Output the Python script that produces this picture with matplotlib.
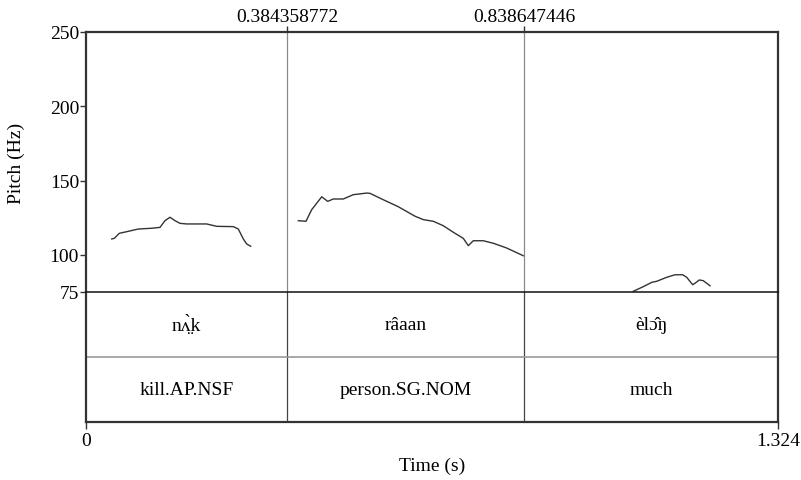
import matplotlib
matplotlib.use('Agg')
import matplotlib.pyplot as plt

# Praat-style pitch + TextGrid picture
T_END = 1.324
BOUNDARIES = [0.384358772, 0.838647446]
BOUNDARY_LABELS = ['0.384358772', '0.838647446']
PITCH_TICKS = [75, 100, 150, 200, 250]

# pitch contour, one list per voiced stretch (time s, Hz)
seg1_t = [0.0492, 0.0541, 0.0637, 0.0779, 0.1001, 0.1257, 0.1416, 0.1511, 0.1607,
          0.1703, 0.1799, 0.1927, 0.2309, 0.2501, 0.2818, 0.2914, 0.3010, 0.3075, 0.3151]
seg1_f = [110.7, 111.1, 114.5, 115.6, 117.4, 117.9, 118.5, 123.0, 125.3,
          123.0, 121.2, 120.8, 120.8, 119.2, 119.0, 117.4, 110.7, 107.3, 105.8]
seg2_t = [0.4062, 0.4209, 0.4318, 0.4510, 0.4624, 0.4732, 0.4923, 0.5114, 0.5371,
          0.5434, 0.5688, 0.5975, 0.6295, 0.6454, 0.6645, 0.6836, 0.7028, 0.7219,
          0.7315, 0.7410, 0.7602, 0.7793, 0.8049, 0.8367]
seg2_f = [123.0, 122.6, 130.4, 139.1, 136.0, 137.6, 137.6, 140.5, 141.6,
          141.4, 137.1, 132.4, 126.0, 123.7, 122.6, 119.6, 115.2, 111.1,
          106.2, 109.5, 109.5, 107.8, 104.6, 99.4]
seg3_t = [1.0472, 1.0663, 1.0824, 1.0919, 1.1111, 1.1270, 1.1417, 1.1493, 1.1608,
          1.1652, 1.1735, 1.1811, 1.1939]
seg3_f = [75.5, 78.6, 81.5, 82.2, 84.9, 86.6, 86.6, 84.9, 79.9,
          80.9, 83.1, 82.6, 79.2]

tier1_labels = ['n\u028c\u0324\u0300k', 'r\u00e2aan', '\u00e8l\u0254\u0302\u014b']
tier2_labels = ['kill.AP.NSF', 'person.SG.NOM', 'much']

FONT = ['Liberation Serif', 'DejaVu Serif']
plt.rcParams['font.family'] = FONT
plt.rcParams['font.size'] = 14

fig = plt.figure(figsize=(8.01, 4.81), dpi=100)
W, H = 801, 481
left, right = 86, 778
top, mid, bot = 33, 293, 423

ax = fig.add_axes([left / W, 1 - mid / H, (right - left) / W, (mid - top) / H])
ax2 = fig.add_axes([left / W, 1 - bot / H, (right - left) / W, (bot - mid) / H])

for t, f in [(seg1_t, seg1_f), (seg2_t, seg2_f), (seg3_t, seg3_f)]:
    ax.plot(t, f, color='#333333', lw=1.0)

ax.set_xlim(0, T_END)
ax.set_ylim(75, 250)
for b in BOUNDARIES:
    ax.axvline(b, color='#8a8a8a', lw=0.9)
    ax2.axvline(b, color='#444444', lw=0.9)

for s in ['left', 'top', 'right']:
    ax.spines[s].set_linewidth(1.6)
    ax.spines[s].set_color('#333333')
ax.spines['bottom'].set_visible(False)

ax.set_yticks(PITCH_TICKS)
ax.set_yticklabels([str(v) for v in PITCH_TICKS])
ax.tick_params(axis='y', direction='out', length=4, width=1, color='#333333', pad=1)
ax.xaxis.set_ticks_position('top')
ax.set_xticks(BOUNDARIES)
ax.set_xticklabels(BOUNDARY_LABELS)
ax.tick_params(axis='x', direction='out', length=4, width=1, color='#333333', pad=1)
ax.set_ylabel('Pitch (Hz)')
ax.yaxis.set_label_coords(-0.088, 0.5)

# tiers
ax2.set_xlim(0, T_END)
ax2.set_ylim(0, 2)
ax2.axhline(1, color='#999999', lw=1.2)
ax2.spines['top'].set_linewidth(1.1)
ax2.spines['top'].set_color('#111111')
for s in ['left', 'bottom', 'right']:
    ax2.spines[s].set_linewidth(1.6)
    ax2.spines[s].set_color('#333333')
ax2.set_yticks([])
ax2.set_xticks([0, T_END])
ax2.set_xticklabels(['0', '1.324'])
ax2.tick_params(axis='x', direction='out', length=5, width=1, color='#333333', pad=2)
ax2.set_xlabel('Time (s)', labelpad=6)

edges = [0] + BOUNDARIES + [T_END]
for i in range(3):
    cx = (edges[i] + edges[i + 1]) / 2
    ax2.text(cx, 1.5, tier1_labels[i], ha='center', va='center', family=FONT)
    ax2.text(cx, 0.5, tier2_labels[i], ha='center', va='center', family=FONT)

fig.savefig('out.png', dpi=100)
